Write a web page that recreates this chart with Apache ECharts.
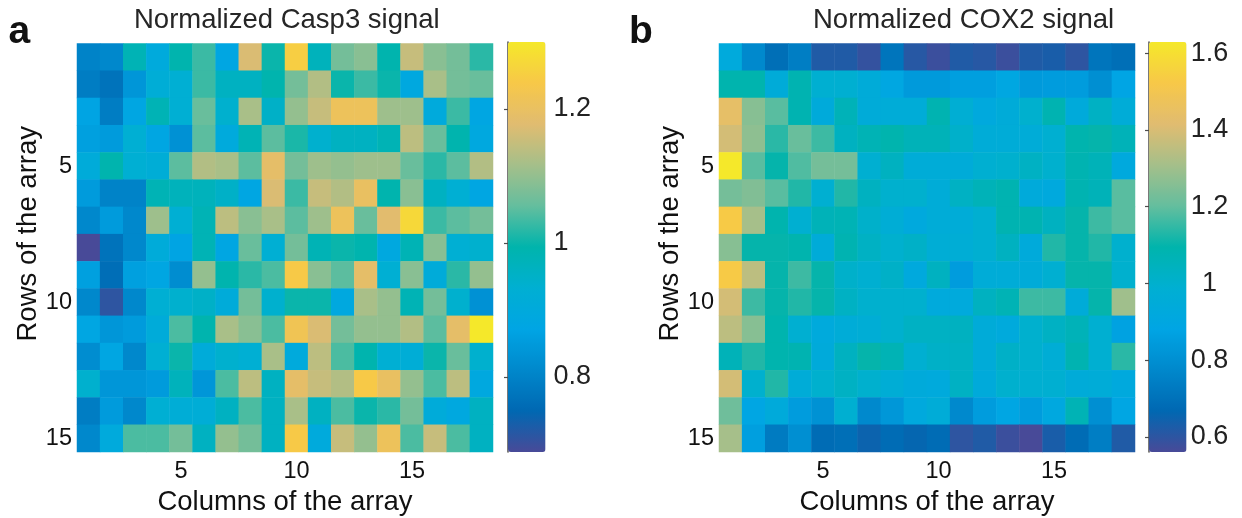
<!DOCTYPE html>
<html>
<head>
<meta charset="utf-8">
<script src="https://cdn.jsdelivr.net/npm/echarts@6/dist/echarts.min.js"></script>
<style>
html,body{margin:0;padding:0;background:#fff;}
#chart{width:1242px;height:518px;}
</style>
</head>
<body>
<div id="chart"></div>
<script>
const columns = ['1','2','3','4','5','6','7','8','9','10','11','12','13','14','15','16','17','18'];
const rows = ['1','2','3','4','5','6','7','8','9','10','11','12','13','14','15'];
const shownTicks = ['5','10','15'];

const casp3 = [
  [0.80,0.81,0.98,0.90,0.99,1.03,0.88,1.17,1.00,1.25,0.97,1.07,1.09,0.99,1.15,1.09,1.07,1.02],
  [0.79,0.77,0.84,0.92,0.93,1.03,0.96,0.96,0.99,1.07,1.13,1.00,1.03,1.00,0.89,1.12,1.07,1.06],
  [0.87,0.79,0.88,0.98,0.93,1.06,0.94,1.12,0.95,1.10,1.15,1.21,1.21,1.11,1.11,0.90,1.03,0.88],
  [0.86,0.85,0.93,0.88,0.83,1.05,0.90,0.98,1.05,1.01,0.94,0.96,0.96,0.98,1.14,1.06,0.99,0.89],
  [0.91,0.99,0.93,0.92,1.05,1.13,1.12,1.05,1.19,1.07,1.11,1.10,1.11,1.11,1.06,1.02,1.05,1.13],
  [0.85,0.80,0.80,0.98,0.97,0.97,0.95,0.88,1.17,1.03,1.15,1.13,1.20,0.99,1.09,0.96,0.93,0.88],
  [0.81,0.85,0.81,1.11,0.93,0.98,1.14,1.09,1.12,1.05,1.11,1.21,1.06,1.18,1.27,1.03,1.05,1.07],
  [0.688,0.77,0.81,0.91,0.87,0.98,0.88,1.06,0.93,1.07,0.98,1.00,0.99,0.89,0.98,1.09,0.93,0.94],
  [0.86,0.76,0.86,0.88,0.82,1.10,0.99,1.02,1.04,1.24,1.09,1.05,1.19,0.93,1.09,0.91,1.02,1.10],
  [0.81,0.71,0.81,0.93,0.94,0.95,0.91,1.07,0.94,1.00,1.00,0.89,1.12,1.10,0.98,1.07,0.94,0.83],
  [0.88,0.84,0.85,0.91,1.04,0.99,1.12,1.09,1.04,1.22,1.17,1.07,1.10,1.10,1.13,1.05,1.19,1.30],
  [0.82,0.88,0.81,0.93,1.00,0.91,0.94,0.93,1.12,0.90,1.14,1.04,0.99,0.93,0.92,1.00,1.06,0.94],
  [0.94,0.84,0.84,0.85,0.97,0.84,1.04,1.14,0.96,1.19,1.15,1.13,1.24,1.20,1.10,1.04,1.14,0.89],
  [0.79,0.85,0.81,0.93,0.92,0.92,0.96,1.04,0.96,1.12,0.96,1.04,1.00,1.02,1.07,0.91,0.89,0.96],
  [0.81,0.90,1.04,1.04,1.07,0.96,1.10,1.07,0.96,1.24,0.90,1.15,1.10,1.21,1.04,1.15,1.04,0.96]
];

const cox2 = [
  [0.93,0.78,0.69,0.74,0.62,0.62,0.59,0.71,0.61,0.58,0.62,0.61,0.58,0.62,0.63,0.60,0.71,0.69],
  [1.09,1.09,0.95,1.08,0.99,0.99,0.95,0.90,0.84,0.84,0.86,0.86,0.90,0.84,0.85,0.85,0.80,0.88],
  [1.44,1.26,1.19,1.08,0.94,1.06,0.95,0.96,0.96,1.08,0.98,0.92,0.95,1.00,1.08,0.94,1.03,0.96],
  [1.39,1.27,1.14,1.21,1.16,1.04,1.07,1.09,1.06,1.06,1.01,0.96,0.96,0.96,0.99,1.09,1.10,1.06],
  [1.629,1.19,1.10,1.18,1.23,1.23,0.99,1.04,0.96,0.96,0.95,0.99,1.00,1.03,1.00,1.08,1.06,0.92],
  [1.23,1.25,1.19,1.13,0.99,1.13,1.04,1.00,1.00,0.96,1.03,1.06,1.08,0.94,0.92,1.08,1.06,1.19],
  [1.53,1.31,1.09,0.99,1.06,1.07,1.01,0.97,0.92,0.96,0.96,0.99,1.08,1.08,1.04,1.10,1.16,1.19],
  [1.26,1.10,1.10,1.09,0.95,1.08,1.03,1.00,1.02,0.97,0.97,0.99,1.04,0.94,1.13,1.10,1.13,1.00],
  [1.53,1.35,1.10,1.16,1.10,1.01,0.99,1.02,0.92,1.04,0.85,0.96,0.96,0.95,0.99,1.10,1.10,1.00],
  [1.39,1.16,1.10,1.13,1.10,1.03,1.00,1.00,1.00,0.93,0.93,1.04,1.07,1.16,1.16,0.95,1.10,1.30],
  [1.35,1.26,1.09,0.99,0.93,0.96,0.97,1.00,1.03,1.03,1.04,0.95,0.93,1.00,1.03,1.06,0.99,0.87],
  [1.06,1.13,1.09,1.08,0.94,1.04,1.10,1.07,0.99,1.02,1.03,0.95,1.02,1.00,0.97,1.08,0.99,1.14],
  [1.39,1.00,1.13,0.96,1.00,1.03,1.00,0.97,0.94,0.93,1.03,0.94,1.00,0.99,0.99,0.95,0.96,0.92],
  [1.22,0.89,0.94,0.85,0.81,0.99,0.78,0.83,0.92,0.96,0.78,0.85,0.89,0.85,0.91,1.07,0.80,0.89],
  [1.31,0.86,0.73,0.80,0.68,0.69,0.65,0.68,0.66,0.68,0.60,0.62,0.58,0.561,0.63,0.68,0.74,0.62]
];

const casp3Range = [0.688, 1.300];
const cox2Range = [0.561, 1.629];
const casp3Ticks = [0.8, 1, 1.2];
const cox2Ticks = [0.6, 0.8, 1, 1.2, 1.4, 1.6];
const parula = ['#484A98','#0068B2','#0088CC','#00A5E4','#00AFD2','#00B4AC','#64BE9E','#A5BF8A','#E1BC70','#F7C848','#F5E82A'];

const FONT = "'Liberation Sans', Arial, Helvetica, sans-serif";

function toCells(m) {
  const out = [];
  m.forEach((row, r) => row.forEach((v, c) => out.push([c, r, v])));
  return out;
}

const HM = { top: 43.5, height: 408.5, width: 416 };
const lefts = [77, 719];
const cbLefts = [508, 1149];
const CB = { top: 42, height: 410, width: 37.5 };

function heatX(i) {
  return {
    type: 'category', gridIndex: i, data: columns,
    axisLine: { show: false }, axisTick: { show: false }, splitArea: { show: false },
    axisLabel: { interval: (idx, val) => shownTicks.includes(val), margin: 7.6,
      fontSize: 23.5, color: '#111', fontFamily: FONT },
    name: 'Columns of the array', nameLocation: 'middle', nameGap: 34.4,
    nameTextStyle: { fontSize: 27.5, color: '#111', fontFamily: FONT }
  };
}
function heatY(i) {
  return {
    type: 'category', gridIndex: i, data: rows, inverse: true,
    axisLine: { show: false }, axisTick: { show: false }, splitArea: { show: false },
    axisLabel: { interval: (idx, val) => shownTicks.includes(val), margin: 5,
      fontSize: 23.5, color: '#111', fontFamily: FONT },
    name: 'Rows of the array', nameLocation: 'middle', nameGap: 35,
    nameTextStyle: { fontSize: 27.5, color: '#111', fontFamily: FONT, padding: [0, 0, 0, 28] }
  };
}
function cbX(i) {
  return { type: 'value', gridIndex: i, show: false, min: 0, max: 1 };
}
function cbY(i, range, ticks, align, margin) {
  return {
    type: 'value', gridIndex: i, position: 'right', min: range[0], max: range[1],
    splitLine: { show: false },
    axisLine: { show: true, lineStyle: { color: '#4d4d4d', width: 1.5 } },
    axisTick: { show: true, inside: true, length: 4, customValues: ticks,
      lineStyle: { color: '#4d4d4d', width: 1.2 } },
    axisLabel: { customValues: ticks, fontSize: 27, color: '#222', fontFamily: FONT,
      align: align, margin: margin,
      formatter: v => String(Math.round(v * 10) / 10) }
  };
}
function gridAt(left, top, width, height) {
  return { left, top, width, height, outerBoundsMode: 'none', containLabel: false };
}

const option = {
  animation: false,
  backgroundColor: '#fff',
  title: [
    { text: 'a', left: 8.5, top: 13, padding: 0,
      textStyle: { fontSize: 39, fontWeight: 'bold', color: '#111', fontFamily: FONT } },
    { text: 'b', left: 629, top: 13, padding: 0,
      textStyle: { fontSize: 39, fontWeight: 'bold', color: '#111', fontFamily: FONT } },
    { text: 'Normalized Casp3 signal', left: 134, top: 6, padding: 0,
      textStyle: { fontSize: 27.5, fontWeight: 'normal', color: '#262626', fontFamily: FONT } },
    { text: 'Normalized COX2 signal', left: 813, top: 6, padding: 0,
      textStyle: { fontSize: 27.5, fontWeight: 'normal', color: '#262626', fontFamily: FONT } }
  ],
  grid: [
    gridAt(lefts[0], HM.top, HM.width, HM.height),
    gridAt(lefts[1], HM.top, HM.width, HM.height),
    gridAt(cbLefts[0], CB.top, CB.width, CB.height),
    gridAt(cbLefts[1], CB.top, CB.width, CB.height)
  ],
  xAxis: [heatX(0), heatX(1), cbX(2), cbX(3)],
  yAxis: [heatY(0), heatY(1),
    cbY(2, casp3Range, casp3Ticks, 'left', 8),
    cbY(3, cox2Range, cox2Ticks, 'center', 23)],
  visualMap: [
    { type: 'continuous', seriesIndex: 0, min: casp3Range[0], max: casp3Range[1],
      inRange: { color: parula }, calculable: false, padding: 0, text: null,
      left: cbLefts[0], top: CB.top, itemWidth: CB.width, itemHeight: CB.height,
      hoverLink: false, realtime: false },
    { type: 'continuous', seriesIndex: 1, min: cox2Range[0], max: cox2Range[1],
      inRange: { color: parula }, calculable: false, padding: 0, text: null,
      left: cbLefts[1], top: CB.top, itemWidth: CB.width, itemHeight: CB.height,
      hoverLink: false, realtime: false }
  ],
  series: [
    { type: 'heatmap', xAxisIndex: 0, yAxisIndex: 0, data: toCells(casp3),
      itemStyle: { borderWidth: 0 }, emphasis: { disabled: true }, progressive: 0 },
    { type: 'heatmap', xAxisIndex: 1, yAxisIndex: 1, data: toCells(cox2),
      itemStyle: { borderWidth: 0 }, emphasis: { disabled: true }, progressive: 0 }
  ]
};

const chart = echarts.init(document.getElementById('chart'), null, { renderer: 'canvas' });
chart.setOption(option);
</script>
</body>
</html>
